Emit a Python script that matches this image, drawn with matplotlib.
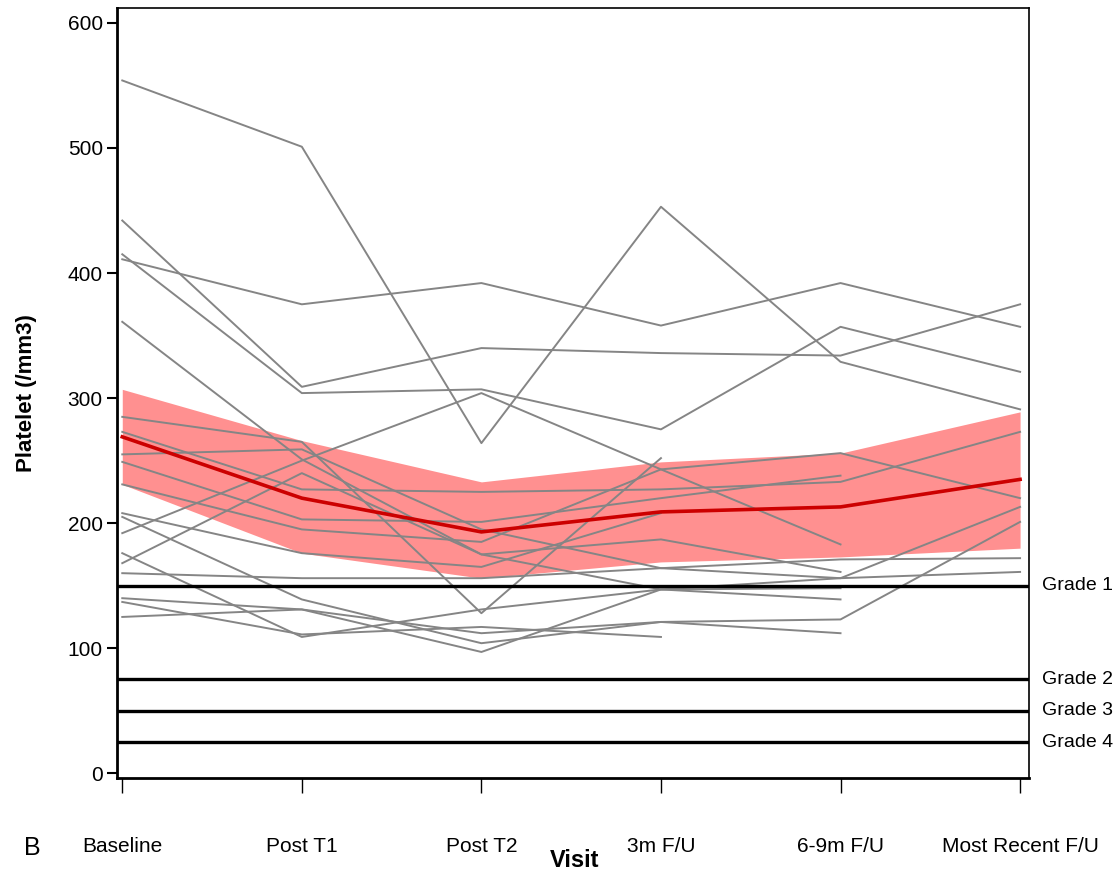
import numpy as np
import matplotlib
matplotlib.use("Agg")
import matplotlib.pyplot as plt

visits = ["Baseline", "Post T1", "Post T2", "3m F/U", "6-9m F/U", "Most Recent F/U"]
nan = np.nan

# individual patient trajectories (platelet, /mm3 scaled)
pA = [554, 501, 264, 453, 329, 291]
pB = [442, 309, 340, 336, 334, 375]
pC = [415, 304, 307, 275, 357, 321]
pD = [411, 375, 392, 358, 392, 357]
pE = [361, 251, 175, 147, 139, nan]
pF = [285, 265, 128, 252, nan, nan]
pG = [273, 227, 225, 227, 233, 273]
pH = [168, 240, 175, 187, 161, nan]
pI = [249, 203, 201, 220, 238, nan]
pJ = [231, 195, 185, 243, 256, 220]
pK = [208, 176, 165, 208, nan, nan]
pL = [205, 139, 104, 121, 123, 201]
pM = [192, 250, 304, 243, 183, nan]
pN = [160, 156, 156, 164, 171, 172]
pO = [140, 131, 112, 121, 112, nan]
pP = [137, 111, 117, 109, nan, nan]
pQ = [125, 131, 97, 147, 148, nan]
pR = [176, 109, 131, 147, 156, 161]
pS = [255, 259, 195, 164, 156, 213]
patients = [pA, pB, pC, pD, pE, pF, pG, pH, pI, pJ, pK, pL, pM, pN, pO, pP, pQ, pR, pS]

mean_est = [269, 220, 193, 209, 213, 235]
ci_low = [231, 176, 156, 169, 173, 180]
ci_high = [307, 266, 233, 249, 256, 289]

grade_vals = [150, 75, 50, 25]
grade_labels = ["Grade 1", "Grade 2", "Grade 3", "Grade 4"]

font = ["Liberation Sans Narrow", "Liberation Sans", "DejaVu Sans"]
plt.rcParams["font.family"] = font

fig = plt.figure(figsize=(11.2, 8.8), dpi=100)
ax = fig.add_axes([0.1042, 0.1156, 0.8146, 0.8754])

x = np.arange(len(visits))
ax.fill_between(x, ci_low, ci_high, color="#ff8a8a", alpha=0.95, linewidth=0, zorder=1)
for p in patients:
    ax.plot(x, p, color="#858585", linewidth=1.4, zorder=2)
ax.plot(x, mean_est, color="#cc0000", linewidth=2.6, zorder=3)

for g, lab in zip(grade_vals, grade_labels):
    ax.axhline(g, color="black", linewidth=2.4, zorder=4)
    ax.annotate(lab, xy=(1.0, g), xycoords=("axes fraction", "data"),
                xytext=(9, 0), textcoords="offset points",
                va="center", ha="left", fontsize=14, annotation_clip=False)

ax.set_xlim(-0.031, 5.05)
ax.set_ylim(-4, 612)
ax.set_yticks([0, 100, 200, 300, 400, 500, 600])
ax.set_xticks(x)
ax.set_xticklabels(visits)
ax.tick_params(axis="y", direction="out", length=7, width=1.5, labelsize=15, pad=3)
ax.tick_params(axis="x", direction="out", length=11, width=1.0, labelsize=15, pad=31)
for s in ["left", "bottom"]:
    ax.spines[s].set_linewidth(2.0)
for s in ["top", "right"]:
    ax.spines[s].set_linewidth(1.2)

ax.set_ylabel("Platelet (/mm3)", fontsize=16, fontweight="bold", labelpad=22)
fig.text(0.513, 0.022, "Visit", fontsize=17, fontweight="bold", ha="center", va="center")
fig.text(0.021, 0.036, "B", fontsize=18, ha="left", va="center")

fig.savefig("out.png", dpi=100)
